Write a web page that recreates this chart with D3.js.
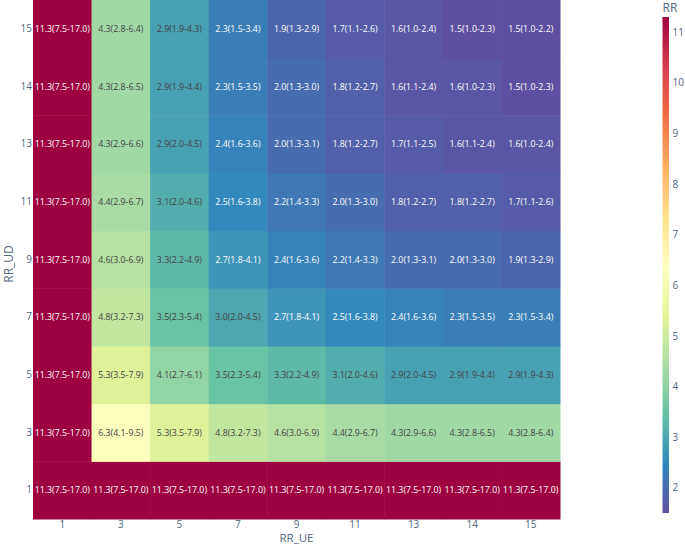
<!DOCTYPE html>
<html>
<head>
<meta charset="utf-8">
<script src="https://cdn.jsdelivr.net/npm/d3@7"></script>
<style>
  body { margin: 0; background: #fff; }
  svg text { font-family: "Open Sans", sans-serif; }
</style>
</head>
<body>
<div id="chart"></div>
<script>
// categories
const xCats = ['1', '3', '5', '7', '9', '11', '13', '14', '15'];   // RR_UE
const yCats = ['1', '3', '5', '7', '9', '11', '13', '14', '15'];   // RR_UD

// RR point estimates, one array per RR_UD row (columns follow xCats)
const rr1  = [11.3, 11.3, 11.3, 11.3, 11.3, 11.3, 11.3, 11.3, 11.3];
const rr3  = [11.3, 6.3, 5.3, 4.8, 4.6, 4.4, 4.3, 4.3, 4.3];
const rr5  = [11.3, 5.3, 4.1, 3.5, 3.3, 3.1, 2.9, 2.9, 2.9];
const rr7  = [11.3, 4.8, 3.5, 3.0, 2.7, 2.5, 2.4, 2.3, 2.3];
const rr9  = [11.3, 4.6, 3.3, 2.7, 2.4, 2.2, 2.0, 2.0, 1.9];
const rr11 = [11.3, 4.4, 3.1, 2.5, 2.2, 2.0, 1.8, 1.8, 1.7];
const rr13 = [11.3, 4.3, 2.9, 2.4, 2.0, 1.8, 1.7, 1.6, 1.6];
const rr14 = [11.3, 4.3, 2.9, 2.3, 2.0, 1.8, 1.6, 1.6, 1.5];
const rr15 = [11.3, 4.3, 2.9, 2.3, 1.9, 1.7, 1.6, 1.5, 1.5];

// confidence intervals as shown in the cells
const ci1  = ['7.5-17.0', '7.5-17.0', '7.5-17.0', '7.5-17.0', '7.5-17.0', '7.5-17.0', '7.5-17.0', '7.5-17.0', '7.5-17.0'];
const ci3  = ['7.5-17.0', '4.1-9.5', '3.5-7.9', '3.2-7.3', '3.0-6.9', '2.9-6.7', '2.9-6.6', '2.8-6.5', '2.8-6.4'];
const ci5  = ['7.5-17.0', '3.5-7.9', '2.7-6.1', '2.3-5.4', '2.2-4.9', '2.0-4.6', '2.0-4.5', '1.9-4.4', '1.9-4.3'];
const ci7  = ['7.5-17.0', '3.2-7.3', '2.3-5.4', '2.0-4.5', '1.8-4.1', '1.6-3.8', '1.6-3.6', '1.5-3.5', '1.5-3.4'];
const ci9  = ['7.5-17.0', '3.0-6.9', '2.2-4.9', '1.8-4.1', '1.6-3.6', '1.4-3.3', '1.3-3.1', '1.3-3.0', '1.3-2.9'];
const ci11 = ['7.5-17.0', '2.9-6.7', '2.0-4.6', '1.6-3.8', '1.4-3.3', '1.3-3.0', '1.2-2.7', '1.2-2.7', '1.1-2.6'];
const ci13 = ['7.5-17.0', '2.9-6.6', '2.0-4.5', '1.6-3.6', '1.3-3.1', '1.2-2.7', '1.1-2.5', '1.1-2.4', '1.0-2.4'];
const ci14 = ['7.5-17.0', '2.8-6.5', '1.9-4.4', '1.5-3.5', '1.3-3.0', '1.2-2.7', '1.1-2.4', '1.0-2.3', '1.0-2.3'];
const ci15 = ['7.5-17.0', '2.8-6.4', '1.9-4.3', '1.5-3.4', '1.3-2.9', '1.1-2.6', '1.0-2.4', '1.0-2.3', '1.0-2.2'];

const colorbarTicks = [2, 3, 4, 5, 6, 7, 8, 9, 10, 11];

// plotly Spectral, reversed (low = purple, high = dark red)
const spectral = ['rgb(94,79,162)', 'rgb(50,136,189)', 'rgb(102,194,165)', 'rgb(171,221,164)',
  'rgb(230,245,152)', 'rgb(255,255,191)', 'rgb(254,224,139)', 'rgb(253,174,97)',
  'rgb(244,109,67)', 'rgb(213,62,79)', 'rgb(158,1,66)'];

const rrRows = [rr1, rr3, rr5, rr7, rr9, rr11, rr13, rr14, rr15];
const ciRows = [ci1, ci3, ci5, ci7, ci9, ci11, ci13, ci14, ci15];

const cells = [];
yCats.forEach((yc, i) => {
  xCats.forEach((xc, j) => {
    cells.push({ x: xc, y: yc, v: rrRows[i][j], ci: ciRows[i][j] });
  });
});

const width = 685, height = 545;
const plot = { left: 33, right: 560, top: 0, bottom: 519 };
const axisColor = '#506784';

const svg = d3.select('#chart').append('svg')
  .attr('width', width)
  .attr('height', height);

const x = d3.scaleBand().domain(xCats).range([plot.left, plot.right]);
const y = d3.scaleBand().domain(yCats).range([plot.bottom, plot.top]);

const [vmin, vmax] = d3.extent(cells, d => d.v);
const stops = spectral.map((c, i) => vmin + (vmax - vmin) * i / (spectral.length - 1));
const color = d3.scaleLinear().domain(stops).range(spectral).interpolate(d3.interpolateRgb).clamp(true);

// dark text on light cells, white text on dark cells
function textColor(c) {
  const rgb = d3.rgb(c);
  const bright = (rgb.r * 299 + rgb.g * 587 + rgb.b * 114) / 1000;
  return bright >= 128 ? '#444' : '#fff';
}

// heatmap cells
svg.append('g')
  .selectAll('rect')
  .data(cells)
  .join('rect')
  .attr('x', d => x(d.x))
  .attr('y', d => y(d.y))
  .attr('width', x.bandwidth() + 0.5)
  .attr('height', y.bandwidth() + 0.5)
  .attr('fill', d => color(d.v));

svg.append('g')
  .selectAll('text')
  .data(cells)
  .join('text')
  .attr('x', d => x(d.x) + x.bandwidth() / 2)
  .attr('y', d => y(d.y) + y.bandwidth() / 2)
  .attr('dy', '0.35em')
  .attr('text-anchor', 'middle')
  .style('font-size', '8.8px')
  .style('fill', d => textColor(color(d.v)))
  .text(d => `${d.v.toFixed(1)}(${d.ci})`);

// axes
const xAxis = svg.append('g')
  .attr('transform', `translate(0,${plot.bottom})`)
  .call(d3.axisBottom(x).tickSize(0).tickPadding(1.5));
const yAxis = svg.append('g')
  .attr('transform', `translate(${plot.left},0)`)
  .call(d3.axisLeft(y).tickSize(0).tickPadding(1));

[xAxis, yAxis].forEach(ax => {
  ax.select('.domain').remove();
  ax.selectAll('text').style('font-size', '10px').style('fill', axisColor);
});

svg.append('text')
  .attr('x', (plot.left + plot.right) / 2)
  .attr('y', 541.5)
  .attr('text-anchor', 'middle')
  .style('font-size', '11.5px')
  .style('fill', axisColor)
  .text('RR_UE');

svg.append('text')
  .attr('transform', `translate(12.5,264) rotate(-90)`)
  .attr('text-anchor', 'middle')
  .style('font-size', '12px')
  .style('fill', axisColor)
  .text('RR_UD');

// colorbar
const cb = { x: 662.5, w: 6.5, top: 17, bottom: 513 };
const cbScale = d3.scaleLinear().domain([vmin, vmax]).range([cb.bottom, cb.top]);

const defs = svg.append('defs');
const grad = defs.append('linearGradient')
  .attr('id', 'cbgrad')
  .attr('x1', 0).attr('y1', 1).attr('x2', 0).attr('y2', 0);
grad.selectAll('stop')
  .data(stops)
  .join('stop')
  .attr('offset', (d, i) => i / (stops.length - 1))
  .attr('stop-color', (d, i) => spectral[i]);

svg.append('rect')
  .attr('x', cb.x)
  .attr('y', cb.top)
  .attr('width', cb.w)
  .attr('height', cb.bottom - cb.top)
  .attr('fill', 'url(#cbgrad)');

const cbAxis = svg.append('g')
  .attr('transform', `translate(${cb.x + cb.w},0)`)
  .call(d3.axisRight(cbScale).tickValues(colorbarTicks).tickSize(0).tickPadding(3.5));
cbAxis.select('.domain').remove();
cbAxis.selectAll('text').style('font-size', '10px').style('fill', axisColor);

svg.append('text')
  .attr('x', cb.x)
  .attr('y', 12)
  .style('font-size', '12px')
  .style('fill', axisColor)
  .text('RR');
</script>
</body>
</html>
